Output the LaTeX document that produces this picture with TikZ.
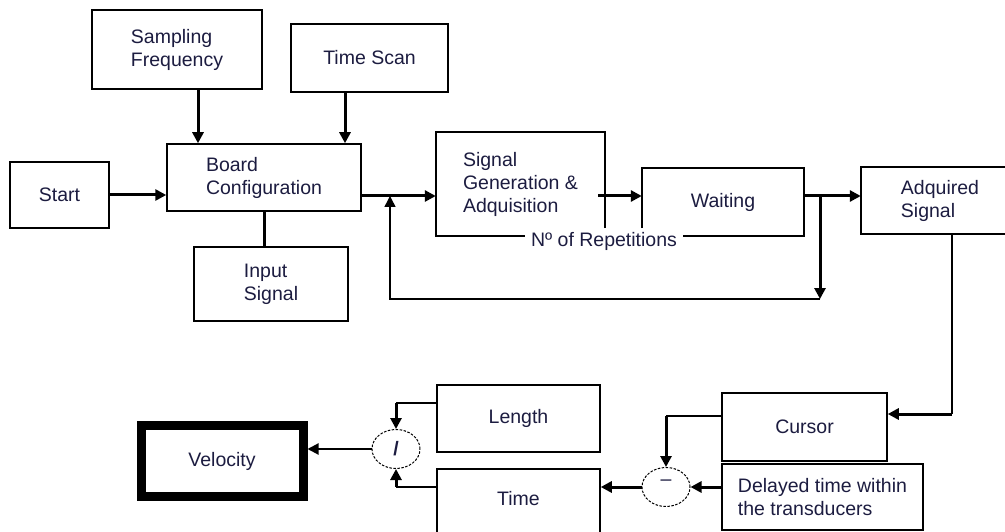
\documentclass[tikz,border=0pt]{standalone}
\usepackage{fontspec}
\setmainfont{Liberation Sans}
\usepackage{tikz}
\usetikzlibrary{arrows.meta,calc,positioning,shapes.geometric}
\definecolor{InkBlue}{HTML}{1C1C40}

\begin{document}
\begin{tikzpicture}[x=1pt,y=-1pt,
  every node/.style={font=\fontsize{19.5}{23}\selectfont,text=InkBlue},
  blk/.style={draw,line width=1.5pt,align=left,inner sep=0pt},
  open/.style={align=left,inner sep=0pt},
  op/.style={draw,ellipse,line width=1pt,dash pattern=on 2.5pt off 1.5pt,inner sep=0pt,minimum width=48pt,minimum height=39pt},
  frame/.style={line width=1.5pt},
  bus/.style={line width=3pt},
  wire/.style={line width=1.5pt},
  >={Triangle[length=11pt,width=11pt]}]
  \path[use as bounding box,fill=white] (0,0) rectangle (1005,532);

  % acquisition chain
  \node[blk,minimum width=170pt,minimum height=79pt] (sf) at (177,49.5) {Sampling\\Frequency};
  \node[blk,minimum width=157pt,minimum height=68pt] (ts) at (369.5,58) {Time Scan};
  \node[blk,minimum width=99pt,minimum height=66pt] (start) at (59.5,195) {Start};
  \node[blk,minimum width=194pt,minimum height=67pt] (bc) at (264,177.5) {Board\\Configuration};
  \node[blk,minimum width=154pt,minimum height=74pt] (in) at (271,284) {Input\\Signal};
  \node[open,minimum width=169pt,minimum height=104pt] (sg) at (520.5,184) {Signal\\Generation \&\\Adquisition};
  \node[open,minimum width=162pt,minimum height=68pt] (wt) at (723,202) {Waiting};
  \node[inner sep=6pt] (rep) at (604,241) {Nº of Repetitions};
  \node[open,minimum width=158pt,minimum height=67pt] (as) at (940,200.5) {Adquired\\Signal};

  \draw[frame] ([yshift=8pt]sg.south east) -- (sg.north east) -- (sg.north west) -- (sg.south west) -- (sg.south west -| rep.west);
  \draw[frame] ([yshift=8pt]wt.south west) -- (wt.north west) -- (wt.north east) -- (wt.south east) -- (wt.south east -| rep.east);
  \draw[frame] ([xshift=40pt]as.north east) -- (as.north west) -- (as.south west) -- ([xshift=40pt]as.south east);

  \coordinate (split) at (820,196);
  \coordinate (loop) at (820,299);
  \coordinate (join) at (390,196);

  \draw[bus,->] ([xshift=21pt]sf.south) -- ([xshift=21pt]sf.south |- bc.north);
  \draw[bus,->] ([xshift=-24.5pt]ts.south) -- ([xshift=-24.5pt]ts.south |- bc.north);
  \draw[bus,->] (start.east) -- (start.east -| bc.west);
  \draw[bus] (bc.south) -- (bc.south |- in.north);
  \draw[bus,->] ([yshift=-18.5pt]bc.east) -- ([yshift=-18.5pt]bc.east -| sg.west);
  \draw[bus,->] ([shift={(-7pt,-12pt)}]sg.east) -- ([yshift=-12pt]sg.east -| wt.west);
  \draw[bus,->] ([yshift=6pt]wt.east) -- ([yshift=6pt]wt.east -| as.west);
  \draw[bus,->] (split) -- (loop);
  \draw[wire,->] (loop) -| (join);

  % time of flight and velocity
  \node[blk,minimum width=165pt,minimum height=68pt] (cur) at (804.5,427) {Cursor};
  \node[blk,minimum width=201pt,minimum height=66pt] (dly) at (822.5,497) {Delayed time within\\the transducers};
  \node[op,text depth=8pt] (sub) at (666,487) {--};
  \node[blk,minimum width=163pt,minimum height=71pt,text depth=13pt] (tm) at (518.5,504.5) {Time};
  \node[blk,minimum width=163pt,minimum height=67pt] (len) at (518.5,418.5) {Length};
  \node[op,font=\fontsize{19.5}{23}\selectfont\bfseries] (div) at (396,449) {/};
  \node[draw,line width=9pt,minimum width=162pt,minimum height=71pt] (vel) at (222,461) {Velocity};

  \coordinate (turn) at (952,414);
  \coordinate (ck) at (666,416);
  \coordinate (lk) at (396,403);
  \coordinate (tk) at (396,487);

  \draw[wire] (as.south -| turn) -- (turn);
  \draw[bus,->] (turn) -- (turn -| cur.east);
  \draw[wire] (cur.west |- ck) -- (ck);
  \draw[bus,->] (ck) -- (sub.north);
  \draw[bus,->] (dly.west |- sub) -- (sub.east);
  \draw[bus,->] (sub.west) -- (sub.west -| tm.east);
  \draw[wire] (len.west |- lk) -- (lk);
  \draw[bus,->] (lk) -- (div.north);
  \draw[wire] (tm.west |- tk) -- (tk);
  \draw[bus,->] (tk) -- (div.south);
  \draw[line width=2pt,->] (div.west) -- (div.west -| vel.east);
\end{tikzpicture}
\end{document}
